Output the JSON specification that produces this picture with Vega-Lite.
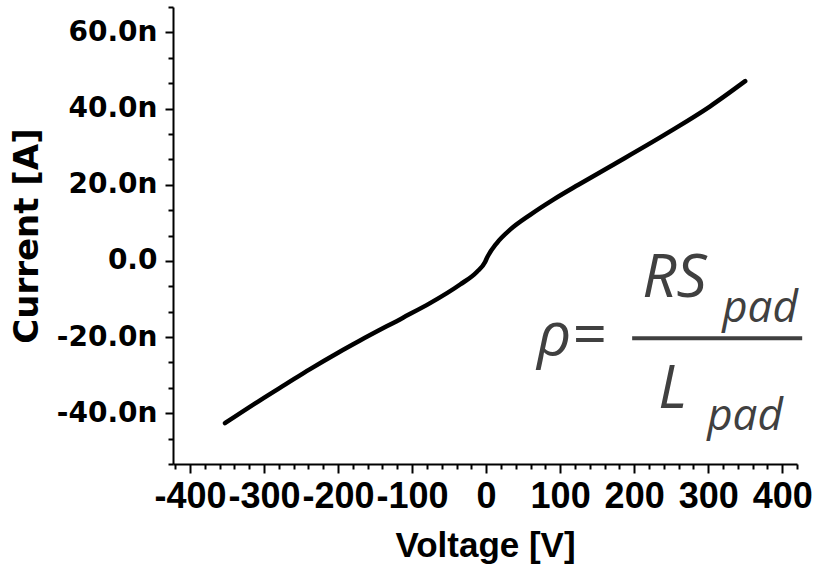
{
  "$schema": "https://vega.github.io/schema/vega-lite/v6.json",
  "width": 624,
  "height": 457,
  "autosize": {"type": "none"},
  "padding": {"left": 173, "top": 7, "right": 19, "bottom": 108},
  "background": "white",
  "config": {"view": {"stroke": null}},
  "datasets": {
    "iv": [
      {"voltage": -352.7, "current_nA": -42.6},
      {"voltage": -305.4, "current_nA": -36.6},
      {"voltage": -270, "current_nA": -32.3},
      {"voltage": -237.8, "current_nA": -28.4},
      {"voltage": -200, "current_nA": -24.1},
      {"voltage": -170.3, "current_nA": -20.9},
      {"voltage": -112.2, "current_nA": -14.9},
      {"voltage": -75.7, "current_nA": -11.1},
      {"voltage": -35.1, "current_nA": -6.2},
      {"voltage": -12.6, "current_nA": -2.9},
      {"voltage": -1.4, "current_nA": -0.3},
      {"voltage": 0.9, "current_nA": 0.7},
      {"voltage": 14.5, "current_nA": 4.7},
      {"voltage": 32.4, "current_nA": 8.2},
      {"voltage": 59.5, "current_nA": 12.1},
      {"voltage": 90.9, "current_nA": 16.1},
      {"voltage": 124.7, "current_nA": 20.0},
      {"voltage": 167.6, "current_nA": 24.8},
      {"voltage": 248.6, "current_nA": 34.0},
      {"voltage": 302.7, "current_nA": 40.6},
      {"voltage": 350, "current_nA": 47.2}
    ],
    "formula": [
      {"voltage": 68.9, "current_nA": -24.7, "label": "ρ=", "part": "big"},
      {"voltage": 210.8, "current_nA": -9.5, "label": "RS", "part": "big"},
      {"voltage": 232.4, "current_nA": -38.7, "label": "L", "part": "big"},
      {"voltage": 318.9, "current_nA": -16.1, "label": "pad", "part": "small"},
      {"voltage": 298.6, "current_nA": -44.5, "label": "pad", "part": "small"}
    ],
    "bar": [
      {"v1": 197.3, "v2": 427, "current_nA": -20.3}
    ]
  },
  "layer": [
    {
      "data": {"name": "iv"},
      "mark": {"type": "line", "color": "black", "strokeWidth": 4.5, "strokeCap": "round", "interpolate": "monotone"},
      "encoding": {
        "x": {
          "field": "voltage", "type": "quantitative",
          "scale": {"domain": [-423, 420], "nice": false, "zero": false},
          "axis": {
            "orient": "bottom",
            "title": "Voltage [V]",
            "values": [-400, -300, -200, -100, 0, 100, 200, 300, 400],
            "labelExpr": "(datum.value < 0 ? '-' : '') + abs(datum.value)",
            "grid": false,
            "domainColor": "black", "domainWidth": 2,
            "tickColor": "black", "tickWidth": 2, "tickSize": 9,
            "labelFont": "Liberation Sans", "labelFontWeight": "bold", "labelFontSize": 36,
            "labelColor": "black", "labelPadding": 6, "labelFlush": false, "labelOverlap": false,
            "titleFont": "Liberation Sans", "titleFontWeight": "bold", "titleFontSize": 35,
            "titleColor": "black", "titlePadding": 14
          }
        },
        "y": {
          "field": "current_nA", "type": "quantitative",
          "scale": {"domain": [-53.33, 66.67], "nice": false, "zero": false},
          "axis": {
            "orient": "left",
            "title": "Current [A]",
            "values": [-40, -20, 0, 20, 40, 60],
            "labelExpr": "datum.value == 0 ? '0.0' : (datum.value < 0 ? '-' : '') + format(abs(datum.value), '.1f') + 'n'",
            "grid": false,
            "domainColor": "black", "domainWidth": 2,
            "tickColor": "black", "tickWidth": 2, "tickSize": 8,
            "labelFont": "DejaVu Sans", "labelFontWeight": "bold", "labelFontSize": 28,
            "labelColor": "black", "labelPadding": 8, "labelFlush": false, "labelOverlap": false,
            "titleFont": "DejaVu Sans", "titleFontWeight": "bold", "titleFontSize": 34,
            "titleColor": "black", "titlePadding": 12
          }
        }
      }
    },
    {
      "data": {"name": "iv"},
      "mark": {"type": "line", "strokeOpacity": 0},
      "encoding": {
        "x": {
          "field": "voltage", "type": "quantitative",
          "axis": {
            "orient": "bottom", "title": null, "labels": false, "domain": false, "grid": false,
            "values": [-420, -380, -360, -340, -320, -280, -260, -240, -220, -180, -160, -140, -120, -80, -60, -40, -20, 20, 40, 60, 80, 120, 140, 160, 180, 220, 240, 260, 280, 320, 340, 360, 380, 420],
            "tickColor": "black", "tickWidth": 2, "tickSize": 5
          }
        },
        "y": {
          "field": "current_nA", "type": "quantitative",
          "axis": {
            "orient": "left", "title": null, "labels": false, "domain": false, "grid": false,
            "values": [-53.33, -46.67, -33.33, -26.67, -13.33, -6.67, 6.67, 13.33, 26.67, 33.33, 46.67, 53.33, 66.67],
            "tickColor": "black", "tickWidth": 2, "tickSize": 5
          }
        }
      }
    },
    {
      "data": {"name": "bar"},
      "mark": {"type": "rule", "color": "#404040", "strokeWidth": 4},
      "encoding": {
        "x": {"field": "v1", "type": "quantitative", "axis": null},
        "x2": {"field": "v2"},
        "y": {"field": "current_nA", "type": "quantitative", "axis": null}
      }
    },
    {
      "data": {"name": "formula"},
      "mark": {"type": "text", "align": "left", "baseline": "alphabetic", "font": "Open Sans", "fontStyle": "italic", "color": "#404040"},
      "encoding": {
        "x": {"field": "voltage", "type": "quantitative", "axis": null},
        "y": {"field": "current_nA", "type": "quantitative", "axis": null},
        "text": {"field": "label"},
        "size": {"field": "part", "type": "nominal", "scale": {"domain": ["big", "small"], "range": [60, 44]}, "legend": null}
      }
    }
  ],
  "resolve": {"axis": {"x": "independent", "y": "independent"}}
}
